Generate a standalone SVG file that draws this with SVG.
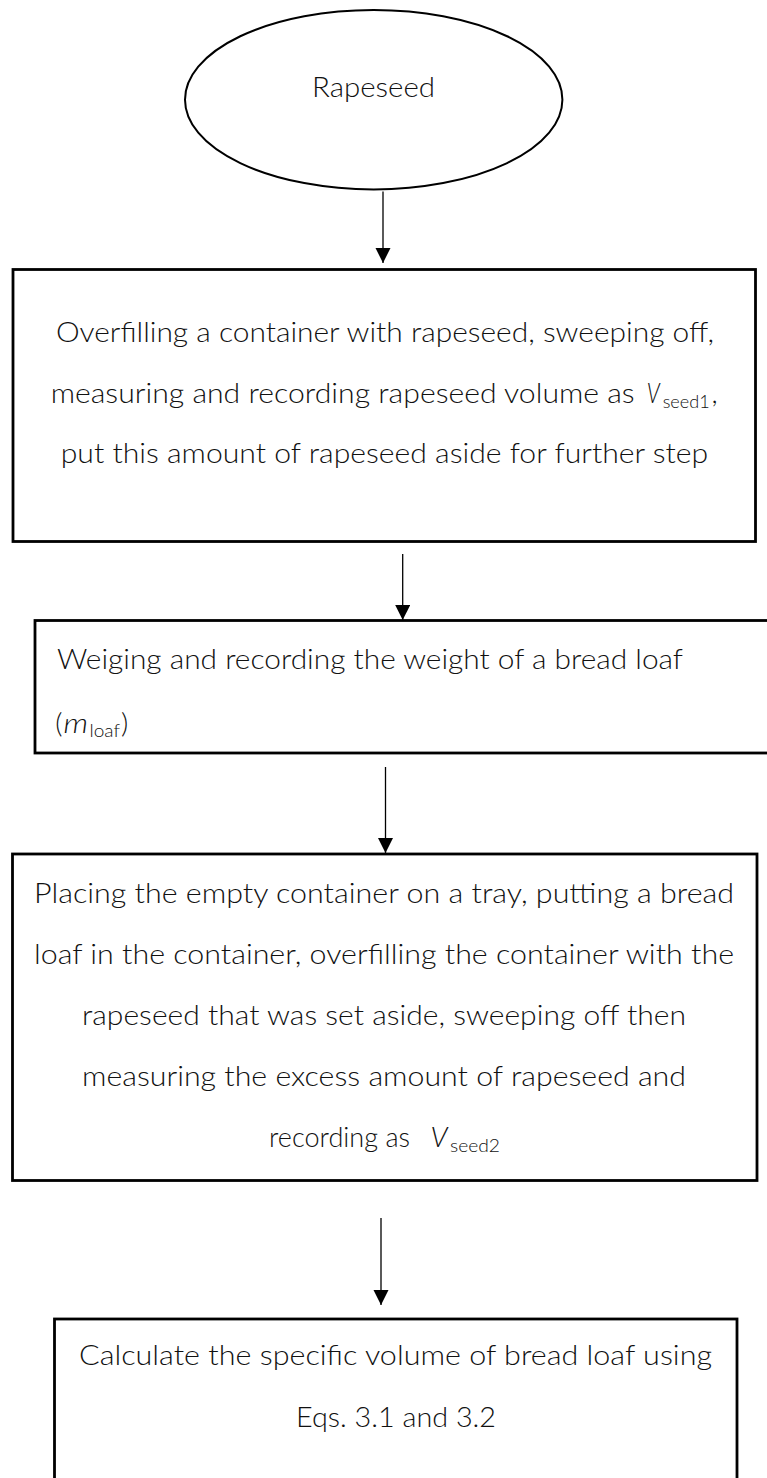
<svg xmlns="http://www.w3.org/2000/svg" width="767" height="1478" viewBox="0 0 767 1478">
<style>
.box{fill:#fff;stroke:#000;stroke-width:2.8}
.t{font-family:Lato,"Open Sans","Liberation Sans",sans-serif;font-size:28px;font-weight:300;fill:#111}
.sub{font-family:Lato,"Open Sans","Liberation Sans",sans-serif;font-size:17px;font-weight:300;fill:#111}
.it{font-style:italic}
.conn{stroke:#000;stroke-width:1.3;fill:none}
</style>
<defs>
<marker id="ah" markerUnits="userSpaceOnUse" markerWidth="16" markerHeight="16" viewBox="0 0 16 16" refX="15" refY="7.5" orient="auto">
<path d="M0,0 L15,7.5 L0,15 z" fill="#000"/>
</marker>
</defs>
<rect width="767" height="1478" fill="#fff"/>
<g id="connectors">
<line class="conn" x1="383" y1="191.5" x2="383" y2="263" marker-end="url(#ah)"/>
<line class="conn" x1="402.7" y1="554" x2="402.7" y2="620" marker-end="url(#ah)"/>
<line class="conn" x1="385.5" y1="767" x2="385.5" y2="853" marker-end="url(#ah)"/>
<line class="conn" x1="381" y1="1218" x2="381" y2="1305" marker-end="url(#ah)"/>
</g>
<g id="rapeseed">
<ellipse cx="373.7" cy="99.7" rx="188.7" ry="89.7" fill="#fff" stroke="#000" stroke-width="2"/>
<text class="t" x="312" y="97.3" font-size="24" textLength="123" lengthAdjust="spacingAndGlyphs">Rapeseed</text>
</g>
<g id="step1">
<rect class="box" x="13" y="269.5" width="742.5" height="272"/>
<text class="t" x="56" y="341.7" textLength="658" lengthAdjust="spacingAndGlyphs">Overfilling a container with rapeseed, sweeping off,</text>
<text class="t" x="50.7" y="402.7" textLength="584" lengthAdjust="spacingAndGlyphs">measuring and recording rapeseed volume as</text>
<text class="t it" x="646.7" y="402.7" textLength="13" lengthAdjust="spacingAndGlyphs">V</text>
<text class="sub" x="662.7" y="408.3" textLength="47" lengthAdjust="spacingAndGlyphs">seed1</text>
<text class="t" x="711.5" y="402.7">,</text>
<text class="t" x="60.7" y="463" textLength="647.5" lengthAdjust="spacingAndGlyphs">put this amount of rapeseed aside for further step</text>
</g>
<g id="step2">
<rect class="box" x="35" y="620.5" width="760" height="132.5"/>
<text class="t" x="57" y="669.3" textLength="626" lengthAdjust="spacingAndGlyphs">Weiging and recording the weight of a bread loaf</text>
<text class="t" x="55.3" y="732.5">(</text>
<text class="t it" x="63.6" y="732.5" textLength="24.5" lengthAdjust="spacingAndGlyphs">m</text>
<text class="sub" x="89.5" y="736.7" textLength="30.5" lengthAdjust="spacingAndGlyphs">loaf</text>
<text class="t" x="121" y="732.5">)</text>
</g>
<g id="step3">
<rect class="box" x="12.5" y="854" width="744.5" height="326.5"/>
<text class="t" x="34" y="902.7" textLength="700" lengthAdjust="spacingAndGlyphs">Placing the empty container on a tray, putting a bread</text>
<text class="t" x="34" y="963.5" textLength="700" lengthAdjust="spacingAndGlyphs">loaf in the container, overfilling the container with the</text>
<text class="t" x="82" y="1024.8" textLength="604" lengthAdjust="spacingAndGlyphs">rapeseed that was set aside, sweeping off then</text>
<text class="t" x="82" y="1085.8" textLength="604" lengthAdjust="spacingAndGlyphs">measuring the excess amount of rapeseed and</text>
<text class="t" x="269" y="1146.7" textLength="141" lengthAdjust="spacingAndGlyphs">recording as</text>
<text class="t it" x="430.5" y="1146.7" textLength="17" lengthAdjust="spacingAndGlyphs">V</text>
<text class="sub" x="450" y="1151.7" textLength="50" lengthAdjust="spacingAndGlyphs">seed2</text>
</g>
<g id="step4">
<rect class="box" x="54.5" y="1319" width="682.5" height="200"/>
<text class="t" x="79" y="1365" textLength="633" lengthAdjust="spacingAndGlyphs">Calculate the specific volume of bread loaf using</text>
<text class="t" x="296" y="1427" textLength="200" lengthAdjust="spacingAndGlyphs">Eqs. 3.1 and 3.2</text>
</g>
</svg>
